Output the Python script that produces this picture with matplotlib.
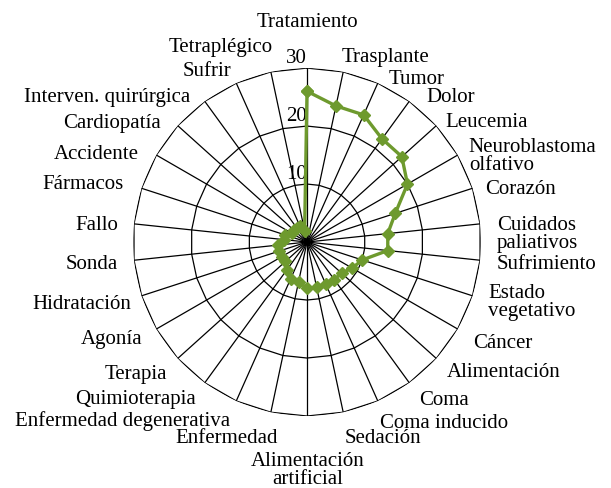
import numpy as np
import matplotlib.pyplot as plt

plt.rcParams['font.family'] = ['Liberation Serif', 'DejaVu Serif']

categorias = [
    'Tratamiento', 'Trasplante', 'Tumor', 'Dolor', 'Leucemia',
    'Neuroblastoma\nolfativo', 'Corazón', 'Cuidados\npaliativos', 'Sufrimiento',
    'Estado\nvegetativo', 'Cáncer', 'Alimentación', 'Coma', 'Coma inducido',
    'Sedación', 'Alimentación\nartificial', 'Enfermedad',
    'Enfermedad degenerativa', 'Quimioterapia', 'Terapia', 'Agonía',
    'Hidratación', 'Sonda', 'Fallo', 'Fármacos', 'Accidente', 'Cardiopatía',
    'Interven. quirúrgica', 'Sufrir', 'Tetraplégico',
]
frecuencias = [
    26, 24, 24, 22, 22, 20, 16, 14, 14, 10, 9, 8, 8, 8, 8, 8, 7, 7, 6, 5,
    5, 5, 5, 4, 4, 3, 3, 3, 3, 2,
]
anillos = [10, 20, 30]

# ajuste fino de cada etiqueta (px a la derecha, px hacia abajo)
ajustes = [
    (0, 3), (-6, 6), (2, 15), (5, 13), (-6, 11), (-7, 12), (-7, 8),
    (-4, 13), (-4, 2), (-4, 0), (-3, 4), (-5, 0), (-2, 1), (-6, 3),
    (-3, 6), (1, 1), (11, 6), (2, 1), (3, 0), (5, 2), (4, 0), (10, 2),
    (5, 2), (5, 4), (2, 3), (1, 10), (-1, 12), (-2, 13), (4, 7), (6, -4),
]

n = len(categorias)
angulos = np.linspace(0, 2 * np.pi, n, endpoint=False)
cerrado = np.append(angulos, angulos[0])

fig = plt.figure(figsize=(6.11, 4.88), dpi=100)
ax = fig.add_axes([0.2177, 0.1475, 0.5696, 0.713], projection='polar')
ax.set_theta_zero_location('N')
ax.set_theta_direction(-1)
ax.set_ylim(0, 30)
ax.grid(False)
ax.spines['polar'].set_visible(False)
ax.set_xticks([])
ax.set_yticks([])

# radios y anillos poligonales
for a in angulos:
    ax.plot([a, a], [0, anillos[-1]], color='black', lw=0.9, zorder=1)
for r in anillos:
    ax.plot(cerrado, [r] * (n + 1), color='black', lw=0.9, zorder=1)
    ax.text(0, r, str(r), ha='right', va='bottom', fontsize=15, zorder=2)

# serie
valores = frecuencias + frecuencias[:1]
ax.plot(cerrado, valores, color='#6e9a2e', lw=2.4, marker='D',
        markersize=6.5, zorder=3, clip_on=False)

# etiquetas de categoría
for a, cat, (dx, dy) in zip(angulos, categorias, ajustes):
    s = np.sin(a)
    if abs(s) < 0.05:
        ha = 'center'
        r = 38.3 if np.cos(a) > 0 else 39.2
    else:
        ha = 'left' if s > 0 else 'right'
        r = 33.6
    ax.annotate(cat, xy=(a, r), xytext=(dx, -dy), textcoords='offset pixels',
                ha=ha, va='center', fontsize=15, linespacing=0.95,
                annotation_clip=False)

fig.savefig('out.png', dpi=100)
